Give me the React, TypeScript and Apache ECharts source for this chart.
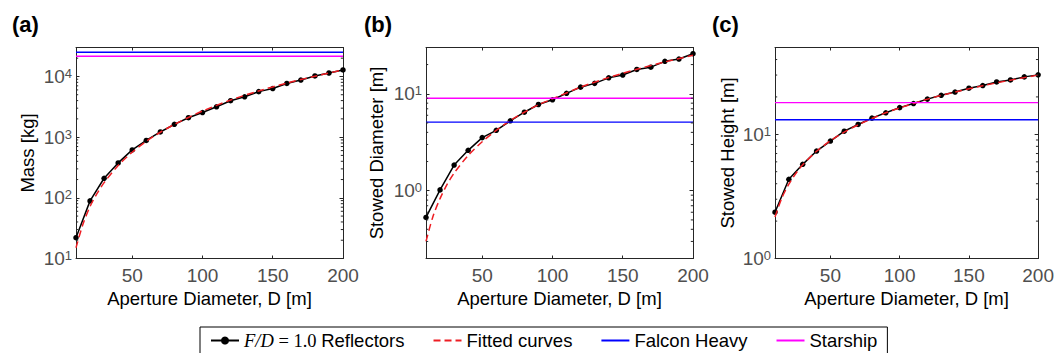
import React, { useEffect, useRef } from 'react';
import * as echarts from 'echarts';

// ---------- data ----------
const apertureD = [10, 20, 30, 40, 50, 60, 70, 80, 90, 100, 110, 120, 130, 140, 150, 160, 170, 180, 190, 200];
const fitD = [10, 15, 20, 25, 30, 40, 50, 60, 70, 80, 90, 100, 120, 140, 160, 180, 200];

const massKg = [22, 89, 210, 376, 616, 881, 1216, 1625, 2090, 2540, 3160, 3980, 4620, 5620, 6320, 7670, 8710, 10200, 11400, 12800];
const fitMassKg = [15, 37, 72, 118, 178, 341, 564, 852, 1204, 1625, 2110, 2690, 4080, 5770, 7770, 10080, 12800];

const stowedDia = [0.53, 1.02, 1.84, 2.61, 3.53, 4.2, 5.26, 6.45, 7.75, 8.67, 10.1, 11.7, 12.8, 14.6, 15.6, 17.8, 18.8, 21.6, 22.8, 25.9];
const fitStowedDia = [0.3, 0.545, 0.83, 1.16, 1.52, 2.31, 3.2, 4.2, 5.3, 6.45, 7.7, 8.85, 11.7, 14.7, 17.9, 21.3, 24.9];

const stowedH = [2.36, 4.34, 5.73, 7.33, 8.83, 10.6, 12.0, 13.5, 14.9, 16.4, 17.7, 19.2, 20.6, 21.9, 23.5, 24.7, 26.4, 27.4, 29.0, 30.1];
const fitStowedH = [2.16, 3.08, 3.97, 4.83, 5.68, 7.3, 8.87, 10.4, 11.9, 13.4, 14.9, 16.3, 19.2, 21.9, 24.6, 27.3, 30.0];

// launch vehicle limits: [mass kg, stowed diameter m, stowed height m]
const falconHeavyLimits = [25000, 5.1, 13.1];
const starshipLimits = [21500, 9, 18];

const xRange = [10, 200];
const xTickValues = [50, 100, 150, 200];
const yRanges = [[10, 30000], [0.2, 30], [1, 50]];
const yTickValues = [[10, 100, 1000, 10000], [1, 10], [1, 10]];
const panelLabels = ['(a)', '(b)', '(c)'];
const yNames = ['Mass [kg]', 'Stowed Diameter [m]', 'Stowed Height [m]'];
const xName = 'Aperture Diameter, D [m]';
const seriesNames = ['F/D = 1.0 Reflectors', 'Fitted curves', 'Falcon Heavy', 'Starship'];

// ---------- style ----------
const FONT = '"Liberation Sans", Arial, sans-serif';
const SERIF = '"Liberation Serif", "Times New Roman", serif';
const AX = '#262626';
const TICKC = '#4f4f4f';
const gridLefts = [76, 426, 775];
const gridTop = 47.5;
const gridW = 267;
const gridH = 211;
const yNameGaps = [39, 40, 38];

function minorTicks(range: number[]): number[] {
  const out: number[] = [];
  const lo = Math.floor(Math.log10(range[0]));
  const hi = Math.ceil(Math.log10(range[1]));
  for (let e = lo; e < hi; e++) {
    for (let m = 2; m <= 9; m++) {
      const v = parseFloat((m * Math.pow(10, e)).toPrecision(6));
      if (v > range[0] && v < range[1]) out.push(v);
    }
  }
  return out;
}

export default function App() {
  const ref = useRef<HTMLDivElement>(null);

  useEffect(() => {
    document.body.style.margin = '0';
    if (!ref.current) return;
    const chart = echarts.init(ref.current, undefined, { renderer: 'svg' });

    const grids: any[] = [];
    const xAxes: any[] = [];
    const yAxes: any[] = [];
    const series: any[] = [];
    const titles: any[] = [];

    const dataSets = [
      [massKg, fitMassKg],
      [stowedDia, fitStowedDia],
      [stowedH, fitStowedH],
    ];

    for (let i = 0; i < 3; i++) {
      grids.push({ left: gridLefts[i], top: gridTop, width: gridW, height: gridH, containLabel: false });
      titles.push({
        text: panelLabels[i],
        left: [12, 364, 712][i],
        top: 13,
        padding: 0,
        textStyle: { fontFamily: FONT, fontWeight: 'bold', fontSize: 22, color: '#000' },
      });
      for (const pos of ['bottom', 'top']) {
        xAxes.push({
          type: 'value',
          gridIndex: i,
          position: pos,
          min: xRange[0],
          max: xRange[1],
          axisLine: { show: true, onZero: false, lineStyle: { color: AX, width: 1 } },
          axisTick: { show: true, inside: true, length: 3, customValues: xTickValues, lineStyle: { color: AX, width: 1 } },
          axisLabel:
            pos === 'bottom'
              ? { show: true, customValues: xTickValues, margin: 7, color: TICKC, fontSize: 19, fontFamily: FONT }
              : { show: false },
          splitLine: { show: false },
          name: pos === 'bottom' ? xName : '',
          nameLocation: 'middle',
          nameGap: 30,
          nameTextStyle: { color: '#000', fontSize: 18.5, fontFamily: FONT },
        });
      }
      for (const pos of ['left', 'right']) {
        yAxes.push({
          type: 'log',
          logBase: 10,
          gridIndex: i,
          position: pos,
          min: yRanges[i][0],
          max: yRanges[i][1],
          axisLine: { show: true, onZero: false, lineStyle: { color: AX, width: 1 } },
          axisTick: { show: true, inside: true, length: 3.5, customValues: yTickValues[i], lineStyle: { color: AX, width: 1 } },
          axisLabel:
            pos === 'left'
              ? {
                  show: true,
                  customValues: yTickValues[i],
                  margin: 4,
                  color: TICKC,
                  fontSize: 19,
                  fontFamily: FONT,
                  formatter: (v: number) => '{b|10}{s|' + Math.round(Math.log10(v)) + '}',
                  rich: {
                    b: { fontSize: 19, fontFamily: FONT, color: TICKC, lineHeight: 19 },
                    s: { fontSize: 13, fontFamily: FONT, color: TICKC, verticalAlign: 'top', lineHeight: 19, padding: [0, 0, 6, 0] },
                  },
                }
              : { show: false },
          splitLine: { show: false },
          minorTick: { show: false },
          name: pos === 'left' ? yNames[i] : '',
          nameLocation: 'middle',
          nameGap: yNameGaps[i],
          nameTextStyle: { color: '#000', fontSize: 18.5, fontFamily: FONT },
        });
      }

      const xa = 2 * i;
      const ya = 2 * i;
      const [pts, fit] = dataSets[i];

      series.push({
        name: seriesNames[0],
        type: 'line',
        xAxisIndex: xa,
        yAxisIndex: ya,
        data: apertureD.map((d, k) => [d, pts[k]]),
        symbol: 'circle',
        symbolSize: 5.5,
        showSymbol: true,
        itemStyle: { color: '#000' },
        lineStyle: { color: '#000', width: 1.5 },
        clip: false,
        z: 2,
      });
      series.push({
        name: seriesNames[1],
        type: 'line',
        xAxisIndex: xa,
        yAxisIndex: ya,
        data: fitD.map((d, k) => [d, fit[k]]),
        symbol: 'none',
        smooth: 0.3,
        itemStyle: { color: '#ee1d23' },
        lineStyle: { color: '#ee1d23', width: 1.5, type: [7, 4] },
        z: 3,
      });
      series.push({
        name: seriesNames[2],
        type: 'line',
        xAxisIndex: xa,
        yAxisIndex: ya,
        data: xRange.map((x) => [x, falconHeavyLimits[i]]),
        symbol: 'none',
        itemStyle: { color: '#0000ff' },
        lineStyle: { color: '#0000ff', width: 1.4 },
        z: 4,
      });
      series.push({
        name: seriesNames[3],
        type: 'line',
        xAxisIndex: xa,
        yAxisIndex: ya,
        data: xRange.map((x) => [x, starshipLimits[i]]),
        symbol: 'none',
        itemStyle: { color: '#ff00ff' },
        lineStyle: { color: '#ff00ff', width: 1.4 },
        z: 4,
      });
      // log minor ticks (left and right box edges)
      series.push({
        type: 'custom',
        xAxisIndex: xa,
        yAxisIndex: ya,
        silent: true,
        clip: false,
        z: 6,
        data: minorTicks(yRanges[i]).map((v) => [xRange[0], v]),
        renderItem: (params: any, api: any) => {
          const v = api.value(1);
          const l = api.coord([xRange[0], v]);
          const r = api.coord([xRange[1], v]);
          return {
            type: 'group',
            children: [
              { type: 'line', shape: { x1: l[0], y1: l[1], x2: l[0] + 2.2, y2: l[1] }, style: { stroke: AX, lineWidth: 1 } },
              { type: 'line', shape: { x1: r[0] - 2.2, y1: r[1], x2: r[0], y2: r[1] }, style: { stroke: AX, lineWidth: 1 } },
            ],
          };
        },
      });
    }

    chart.setOption({
      animation: false,
      backgroundColor: '#ffffff',
      title: titles,
      grid: grids,
      xAxis: xAxes,
      yAxis: yAxes,
      legend: {
        data: [
          { name: seriesNames[0] },
          { name: seriesNames[1], itemStyle: { opacity: 0 } },
          { name: seriesNames[2], itemStyle: { opacity: 0 } },
          { name: seriesNames[3], itemStyle: { opacity: 0 } },
        ],
        left: 200,
        top: 327,
        orient: 'horizontal',
        borderColor: '#000',
        borderWidth: 1,
        borderRadius: 0,
        padding: [4, 10, 8, 10],
        itemGap: 28,
        itemWidth: 28,
        itemHeight: 10,
        textStyle: {
          fontFamily: FONT,
          fontSize: 18.5,
          color: '#000',
          rich: {
            it: { fontFamily: SERIF, fontStyle: 'italic', fontSize: 18.5, color: '#000' },
            tm: { fontFamily: SERIF, fontSize: 18.5, color: '#000' },
            n: { fontFamily: FONT, fontSize: 18.5, color: '#000' },
          },
        },
        formatter: (name: string) =>
          name === seriesNames[0] ? '{it|F/D}{tm| = 1.0 }{n|Reflectors}' : name,
      },
      series,
    });

    return () => {
      chart.dispose();
    };
  }, []);

  return <div ref={ref} style={{ width: 1057, height: 353 }} />;
}
